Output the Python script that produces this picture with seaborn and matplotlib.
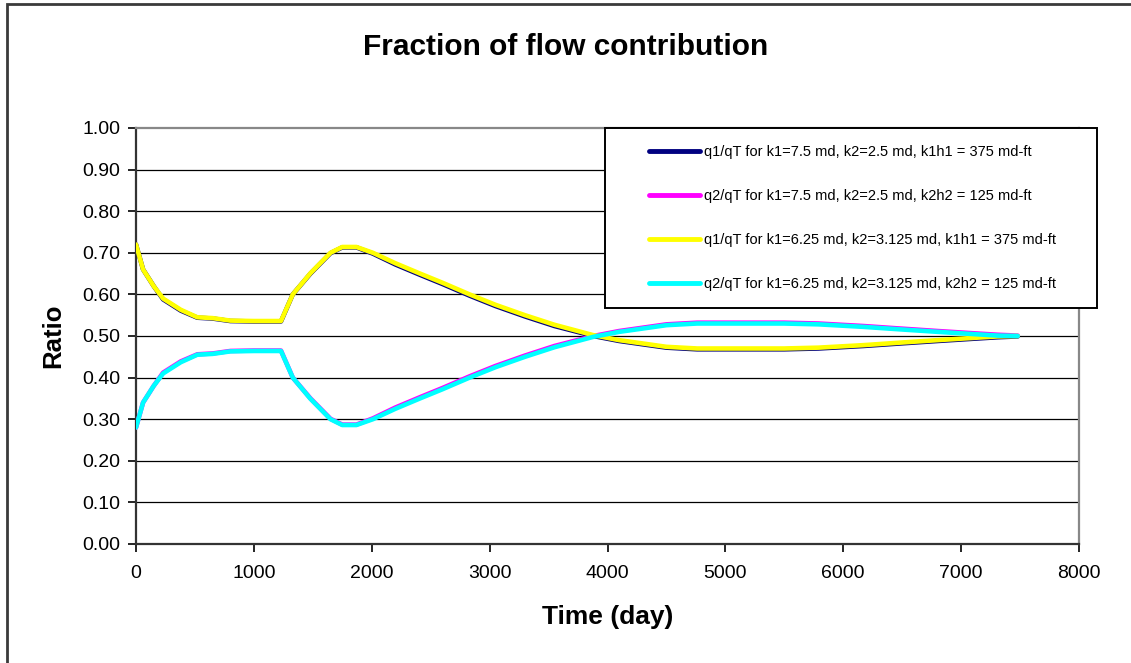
import matplotlib
matplotlib.use("Agg")
import matplotlib.pyplot as plt
import seaborn as sns
import pandas as pd
from matplotlib.patches import Rectangle

# ---- data ----
time_days = [0, 20, 60, 150, 230, 380, 520, 650, 800, 1000, 1230,
             1330, 1480, 1650, 1750, 1870, 2010, 2200, 2410, 2600, 2830,
             3050, 3300, 3550, 3880, 4100, 4500, 4760, 5000, 5500, 5790,
             6170, 6480, 6800, 7080, 7310, 7480]
q1_case2 = [0.72, 0.70, 0.66, 0.62, 0.59, 0.563, 0.545, 0.543, 0.537, 0.536, 0.536,
            0.60, 0.651, 0.70, 0.714, 0.714, 0.70, 0.675, 0.65, 0.628, 0.60,
            0.575, 0.55, 0.527, 0.502, 0.49, 0.474, 0.470, 0.470, 0.470, 0.472,
            0.478, 0.484, 0.490, 0.495, 0.499, 0.500]
q2_case2 = [0.28, 0.30, 0.34, 0.38, 0.41, 0.437, 0.455, 0.457, 0.463, 0.464, 0.464,
            0.40, 0.349, 0.30, 0.286, 0.286, 0.30, 0.325, 0.35, 0.372, 0.40,
            0.425, 0.45, 0.473, 0.498, 0.51, 0.526, 0.530, 0.530, 0.530, 0.528,
            0.522, 0.516, 0.510, 0.505, 0.501, 0.500]
q1_case1 = [0.72, 0.70, 0.66, 0.62, 0.588, 0.561, 0.544, 0.542, 0.536, 0.535, 0.535,
            0.60, 0.650, 0.699, 0.713, 0.713, 0.698, 0.672, 0.647, 0.625, 0.597,
            0.572, 0.547, 0.524, 0.500, 0.488, 0.472, 0.468, 0.468, 0.468, 0.470,
            0.476, 0.482, 0.488, 0.493, 0.497, 0.499]
q2_case1 = [0.28, 0.30, 0.34, 0.38, 0.412, 0.439, 0.456, 0.458, 0.464, 0.465, 0.465,
            0.40, 0.350, 0.301, 0.287, 0.287, 0.302, 0.328, 0.353, 0.375, 0.403,
            0.428, 0.453, 0.476, 0.500, 0.512, 0.528, 0.532, 0.532, 0.532, 0.530,
            0.524, 0.518, 0.512, 0.507, 0.503, 0.501]

series_labels = [
    "q1/qT for k1=7.5 md, k2=2.5 md, k1h1 = 375 md-ft",
    "q2/qT for k1=7.5 md, k2=2.5 md, k2h2 = 125 md-ft",
    "q1/qT for k1=6.25 md, k2=3.125 md, k1h1 = 375 md-ft",
    "q2/qT for k1=6.25 md, k2=3.125 md, k2h2 = 125 md-ft",
]
series_colors = ["#000080", "#FF00FF", "#FFFF00", "#00FFFF"]
y_ticks = [0.0, 0.1, 0.2, 0.3, 0.4, 0.5, 0.6, 0.7, 0.8, 0.9, 1.0]
x_ticks = [0, 1000, 2000, 3000, 4000, 5000, 6000, 7000, 8000]

rows = []
for lab, vals in zip(series_labels, [q1_case1, q2_case1, q1_case2, q2_case2]):
    for t, v in zip(time_days, vals):
        rows.append({"Time": t, "Ratio": v, "Series": lab})
df = pd.DataFrame(rows)

sns.set_theme(style="white")
plt.rcParams["font.family"] = ["Liberation Sans", "DejaVu Sans"]
plt.rcParams["text.color"] = "black"
plt.rcParams["axes.labelcolor"] = "black"

W, H = 1131, 663
fig = plt.figure(figsize=(W / 100, H / 100), dpi=100)
fig.patch.set_facecolor("white")
ax = fig.add_axes([136 / W, 1 - 544 / H, (1079 - 136) / W, (544 - 128) / H])

# figure border (left/top visible, right/bottom beyond the image)
fig.patches.append(Rectangle((7 / W, -0.05), 1.2, 1 - 4 / H + 0.05,
                             transform=fig.transFigure, fill=False,
                             edgecolor="#3a3a3a", linewidth=2, zorder=0))

for y in y_ticks[1:-1]:
    ax.axhline(y, color="#000000", linewidth=0.9, zorder=1)

sns.lineplot(data=df, x="Time", y="Ratio", hue="Series",
             hue_order=series_labels, palette=series_colors,
             linewidth=3.3, ax=ax, legend=True, estimator=None, sort=False,
             zorder=3)

ax.set_xlim(0, 8000)
ax.set_ylim(0, 1.0)
ax.set_xticks(x_ticks)
ax.set_yticks(y_ticks)
ax.set_yticklabels([f"{v:.2f}" for v in y_ticks])
ax.tick_params(axis="both", labelsize=14, colors="#000000", length=6,
               width=1.2, direction="out", bottom=True, left=True)
ax.tick_params(axis="x", pad=9)
ax.tick_params(axis="y", pad=5.5)
for side in ["left", "bottom"]:
    ax.spines[side].set_color("#333333")
    ax.spines[side].set_linewidth(1.6)
for side in ["top", "right"]:
    ax.spines[side].set_visible(True)
    ax.spines[side].set_color("#888888")
    ax.spines[side].set_linewidth(1.6)

ax.set_xlabel("Time (day)", fontsize=19, fontweight="bold", labelpad=17,
              color="black")
ax.set_ylabel("Ratio", fontsize=18.5, fontweight="bold", labelpad=12,
              color="black")
fig.text(0.5, 1 - 47 / H, "Fraction of flow contribution", ha="center",
         va="center", fontsize=21.5, fontweight="bold", color="black")

# legend frame drawn as its own rectangle (figure coords)
fig.patches.append(Rectangle((605 / W, 1 - 308 / H), (1097 - 605) / W,
                             (308 - 128) / H, transform=fig.transFigure,
                             facecolor="white", edgecolor="#000000",
                             linewidth=1.4, zorder=4))

handles, labels = ax.get_legend_handles_labels()
leg = fig.legend(handles, labels, loc="upper left",
                 bbox_to_anchor=(649 / W, 1 - 145 / H),
                 bbox_transform=fig.transFigure, fontsize=10.5,
                 frameon=False, handlelength=3.5,
                 handletextpad=0.25, labelspacing=2.05, borderpad=0,
                 borderaxespad=0)
leg.set_zorder(6)
for line in leg.get_lines():
    line.set_linewidth(3.5)
if ax.get_legend():
    ax.get_legend().remove()

fig.savefig("out.png", dpi=100, facecolor="white")
